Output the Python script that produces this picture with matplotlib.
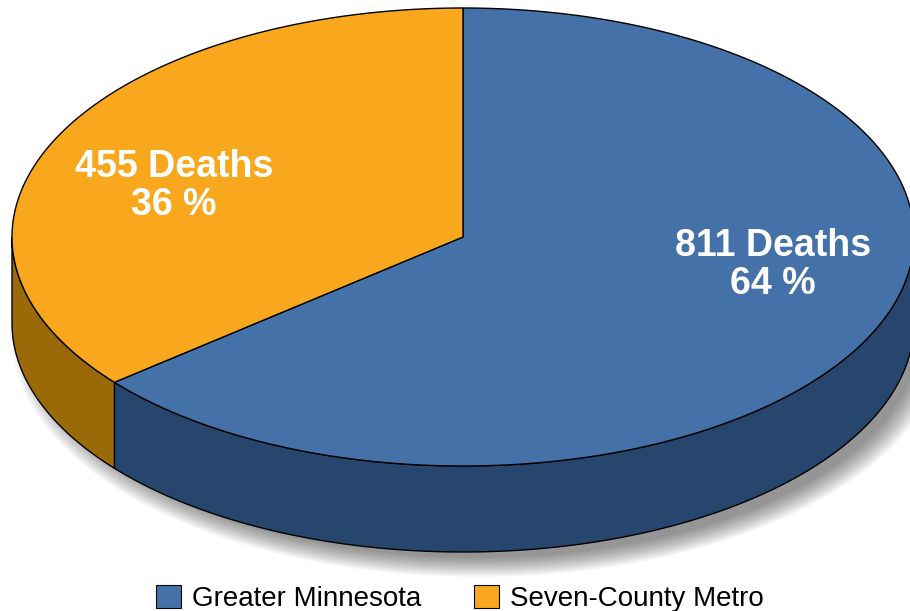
import matplotlib
matplotlib.use("Agg")
import matplotlib.pyplot as plt
import numpy as np
from matplotlib.patches import Polygon, Ellipse, Patch

# data
categories = ["Greater Minnesota", "Seven-County Metro"]
deaths = [811, 455]
percents = [64, 36]
top_colors = ["#4472A8", "#F9A81E"]
side_colors = ["#26466E", "#9A6A08"]

plt.rcParams['font.family'] = ['Liberation Sans', 'DejaVu Sans']

fig = plt.figure(figsize=(9.10, 6.11), dpi=100)
ax = fig.add_axes([0, 0, 1, 1])
ax.set_xlim(0, 910)
ax.set_ylim(611, 0)
ax.axis('off')

# pie geometry (pixels)
cx, cy = 463, 237
a, b = 451, 229
depth = 86


def pt(t):
    r = np.radians(t)
    return cx + a * np.cos(r), cy - b * np.sin(r)


# soft shadow under the pie
for i in range(14):
    ax.add_patch(Ellipse((cx + 15, cy + depth + 14), 2 * a + 30 - i * 4, 2 * b + 22 - i * 3,
                         facecolor='black', edgecolor='none', alpha=0.035, zorder=1))

# slice angles: Metro counterclockwise from top, Greater MN the rest
total = sum(deaths)
span_metro = 360 * deaths[1] / total
ranges = [(90 + span_metro, 450), (90, 90 + span_metro)]

# side walls (front half only, 180..360)
for (t0, t1), col in zip(ranges, side_colors):
    lo = max(t0, 180)
    hi = min(t1, 360)
    if hi <= lo:
        continue
    ts = np.linspace(lo, hi, 200)
    xs, ys = pt(ts)
    verts = list(zip(xs, ys)) + list(zip(xs[::-1], ys[::-1] + depth))
    ax.add_patch(Polygon(verts, closed=True, facecolor=col, edgecolor='black', lw=1, zorder=2))

# top faces
for (t0, t1), col in zip(ranges, top_colors):
    ts = np.linspace(t0, t1, 400)
    xs, ys = pt(ts)
    verts = [(cx, cy)] + list(zip(xs, ys))
    ax.add_patch(Polygon(verts, closed=True, facecolor=col, edgecolor='black', lw=1, zorder=3))

# labels
label_pos = [(773, 265), (174, 186)]
for (x, y), d, p in zip(label_pos, deaths, percents):
    ax.text(x, y, f"{d} Deaths\n{p} %", color='white', fontsize=27, fontweight='bold',
            ha='center', va='center', linespacing=1.05, zorder=5)

# legend
handles = [Patch(facecolor=c, edgecolor='black', lw=0.8) for c in top_colors]
fig.legend(handles, categories, loc='lower center', ncol=2, frameon=False, fontsize=20,
           bbox_to_anchor=(0.505, -0.043), handlelength=0.9, handleheight=0.9,
           handletextpad=0.4, columnspacing=1.9)

fig.savefig("out.png", dpi=100)
